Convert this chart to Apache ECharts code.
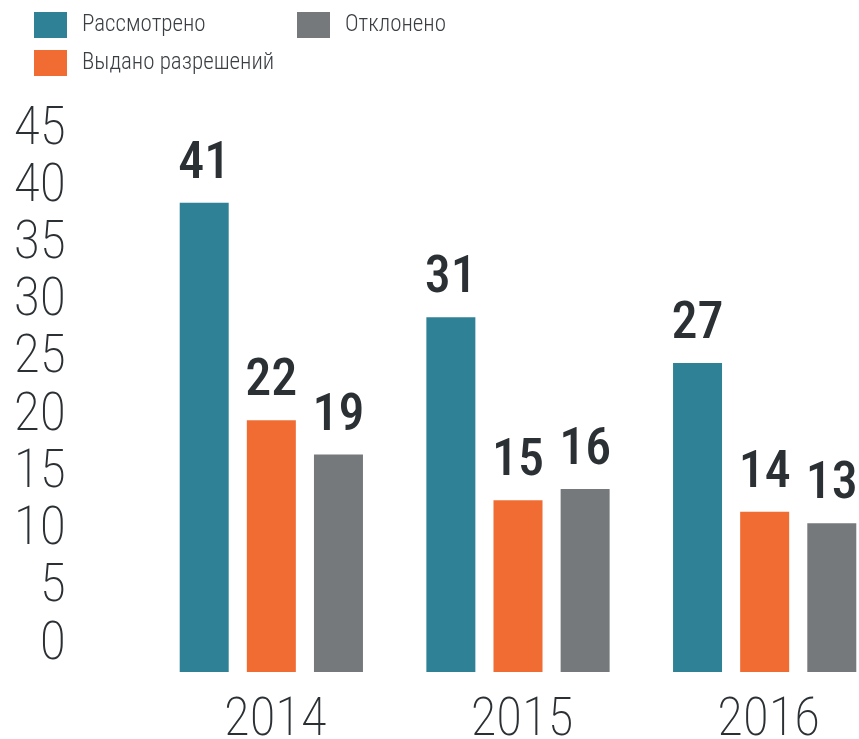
<!DOCTYPE html>
<html>
<head>
<meta charset="utf-8">
<script src="https://cdn.jsdelivr.net/npm/echarts@6/dist/echarts.min.js"></script>
<style>
html,body{margin:0;padding:0;background:#fff;}
#chart{width:859px;height:739px;}
</style>
</head>
<body>
<div id="chart"></div>
<script>
const years = ['2014', '2015', '2016'];
const reviewed = [41, 31, 27];
const granted = [22, 15, 14];
const rejected = [19, 16, 13];
const seriesNames = ['Рассмотрено', 'Выдано разрешений', 'Отклонено'];
const yTicks = [0, 5, 10, 15, 20, 25, 30, 35, 40, 45];

const FONT = "'Roboto Condensed', 'Liberation Sans Narrow', 'DejaVu Sans Condensed', Roboto, sans-serif";
const TXT = '#2b3034';
const colors = ['#2f8196', '#f06c32', '#76797c'];

const chart = echarts.init(document.getElementById('chart'), null, {renderer: 'canvas'});

const label = {
  show: true,
  position: 'top',
  distance: 12,
  fontFamily: FONT,
  fontWeight: 500,
  fontSize: 52,
  color: TXT
};

function mk(name, data, color) {
  return {
    name: name,
    type: 'bar',
    data: data,
    barWidth: 49,
    barGap: '37%',
    itemStyle: {color: color},
    label: label
  };
}

const legendCommon = {
  orient: 'vertical',
  itemWidth: 33,
  itemHeight: 26,
  itemGap: 12,
  icon: 'rect',
  top: 12,
  padding: 0,
  textStyle: {fontFamily: FONT, fontSize: 23, fontWeight: 300, color: '#3a3f44', padding: [0, 0, 0, 10]},
  selectedMode: false
};

chart.setOption({
  animation: false,
  backgroundColor: '#fff',
  legend: [
    Object.assign({}, legendCommon, {left: 34, data: [seriesNames[0], seriesNames[1]]}),
    Object.assign({}, legendCommon, {left: 297, data: [seriesNames[2]]})
  ],
  grid: {left: 148, right: -29, top: 157, bottom: 67, containLabel: false, outerBoundsMode: 'none'},
  xAxis: {
    type: 'category',
    data: years,
    axisLine: {show: false},
    axisTick: {show: false},
    axisLabel: {
      fontFamily: FONT,
      fontSize: 53,
      fontWeight: 200,
      color: TXT,
      margin: 23,
      padding: [0, 0, 0, 8]
    }
  },
  yAxis: {
    type: 'value',
    min: yTicks[0],
    max: yTicks[yTicks.length - 1],
    interval: yTicks[1] - yTicks[0],
    axisLine: {show: false},
    axisTick: {show: false},
    splitLine: {show: false},
    axisLabel: {
      fontFamily: FONT,
      fontSize: 54,
      fontWeight: 200,
      color: TXT,
      margin: 82,
      verticalAlign: 'bottom',
      lineHeight: 54,
      showMinLabel: true,
      showMaxLabel: true
    }
  },
  series: [
    mk(seriesNames[0], reviewed, colors[0]),
    mk(seriesNames[1], granted, colors[1]),
    mk(seriesNames[2], rejected, colors[2])
  ]
});
</script>
</body>
</html>
